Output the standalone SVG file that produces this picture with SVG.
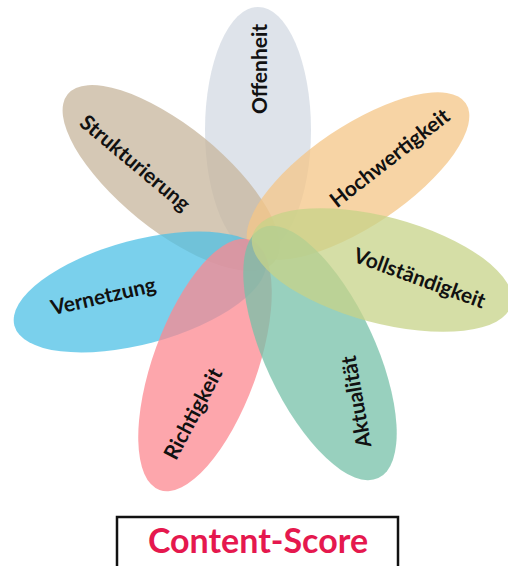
<svg xmlns="http://www.w3.org/2000/svg" width="508" height="566" viewBox="0 0 508 566">
<style>
.petal{fill-opacity:0.75}
.lbl{font-family:Lato,"Open Sans","Liberation Sans",sans-serif;font-weight:bold;font-size:21px;fill:#111;text-anchor:middle;dominant-baseline:central}
.title{font-family:Lato,"Open Sans","Liberation Sans",sans-serif;font-weight:bold;font-size:34px;fill:#e5184e;text-anchor:middle}
</style>
<rect width="508" height="566" fill="#ffffff"/>
<g id="offenheit">
<ellipse class="petal" cx="258" cy="130" rx="53" ry="123" fill="#d3dae3"/>
<text class="lbl" transform="translate(258,69) rotate(-90)">Offenheit</text>
</g>
<g id="strukturierung">
<ellipse class="petal" transform="translate(171,178) rotate(39)" rx="133" ry="52" fill="#c7b59c"/>
<text class="lbl" transform="translate(136,162) rotate(40)">Strukturierung</text>
</g>
<g id="hochwertigkeit">
<ellipse class="petal" transform="translate(358,176) rotate(-34)" rx="130" ry="50" fill="#f4c687"/>
<text class="lbl" transform="translate(389,157) rotate(-38)">Hochwertigkeit</text>
</g>
<g id="vernetzung">
<ellipse class="petal" transform="translate(140,292) rotate(-15)" rx="130" ry="52" fill="#4ec0e6"/>
<text class="lbl" transform="translate(103,295) rotate(-13)">Vernetzung</text>
</g>
<g id="richtigkeit">
<ellipse class="petal" transform="translate(205,365) rotate(-70)" rx="133" ry="52" fill="#fc8890"/>
<text class="lbl" transform="translate(192,413) rotate(-62)">Richtigkeit</text>
</g>
<g id="aktualitaet">
<ellipse class="petal" transform="translate(320,353) rotate(65)" rx="138" ry="55" fill="#76c0a8"/>
<text class="lbl" transform="translate(355,402) rotate(-100)">Aktualität</text>
</g>
<g id="vollstaendigkeit">
<ellipse class="petal" transform="translate(382,270) rotate(15)" rx="134" ry="53" fill="#c7d388"/>
<text class="lbl" transform="translate(420,277) rotate(20)">Vollständigkeit</text>
</g>
<g id="connectors"></g>
<g id="content-score">
<rect x="117" y="517" width="281" height="62" fill="#ffffff" stroke="#111" stroke-width="2.5"/>
<text class="title" x="258" y="553">Content-Score</text>
</g>
</svg>
